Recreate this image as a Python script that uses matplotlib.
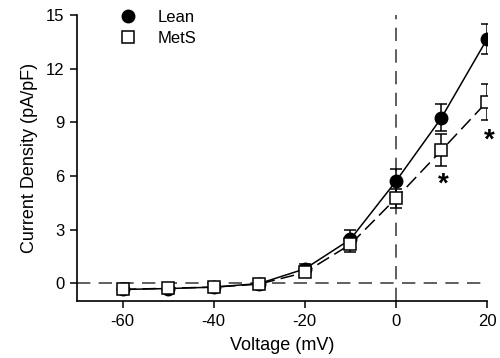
import numpy as np
import matplotlib
matplotlib.use('Agg')
import matplotlib.pyplot as plt
from matplotlib.lines import Line2D

plt.rcParams['font.family'] = ['Liberation Sans', 'DejaVu Sans']
plt.rcParams['axes.unicode_minus'] = False

# voltage steps (mV)
voltage = [-60, -50, -40, -30, -20, -10, 0, 10, 20]

# current density (pA/pF), mean and SEM
lean = [-0.35, -0.3, -0.22, -0.02, 0.8, 2.45, 5.7, 9.25, 13.65]
lean_err = [0.1, 0.1, 0.1, 0.15, 0.3, 0.5, 0.7, 0.75, 0.85]
mets = [-0.35, -0.28, -0.22, -0.05, 0.6, 2.17, 4.74, 7.43, 10.15]
mets_err = [0.1, 0.1, 0.1, 0.15, 0.25, 0.4, 0.55, 0.9, 1.0]

# significance markers
star_x = [10, 20]
star_y = [5.5, 8.0]

fig = plt.figure(figsize=(5, 3.58), dpi=100)
ax = fig.add_axes([0.154, 0.159, 0.82, 0.799])

ax.axhline(0, color='#444444', lw=1.2, ls=(0, (8, 5)), zorder=1)
ax.axvline(0, color='#444444', lw=1.2, ls=(0, (8, 5)), zorder=1)

ax.errorbar(voltage, lean, yerr=lean_err, color='black', lw=1.1,
            marker='o', ms=9, mfc='black', mec='black',
            capsize=4.5, capthick=1.1, elinewidth=1.1, zorder=3)
ax.errorbar(voltage, mets, yerr=mets_err, color='black', lw=1.1,
            ls=(0, (9, 4)), marker='s', ms=8.5, mfc='white', mec='black',
            mew=1.1, capsize=4.5, capthick=1.1, elinewidth=1.1, zorder=4)

for sx, sy in zip(star_x, star_y):
    ax.text(sx + 0.4, sy, '*', ha='center', va='center', fontsize=20,
            fontweight='bold')

ax.set_xlim(-70, 20)
ax.set_ylim(-1, 15)
ax.set_xticks([-60, -40, -20, 0, 20])
ax.set_yticks([0, 3, 6, 9, 12, 15])
ax.tick_params(direction='out', length=5, width=1.1, labelsize=12, pad=4)
for s in ['top', 'right']:
    ax.spines[s].set_visible(False)
for s in ['left', 'bottom']:
    ax.spines[s].set_linewidth(1.2)

ax.set_xlabel('Voltage (mV)', fontsize=13, labelpad=6)
ax.set_ylabel('Current Density (pA/pF)', fontsize=13, labelpad=6)

handles = [Line2D([], [], ls='none', marker='o', ms=9, mfc='black', mec='black'),
           Line2D([], [], ls='none', marker='s', ms=8.5, mfc='white', mec='black', mew=1.1)]
ax.legend(handles, ['Lean', 'MetS'], loc='upper left', bbox_to_anchor=(0.063, 1.07),
          frameon=False, fontsize=12, handlelength=1.2, handletextpad=1.2,
          labelspacing=0.35)

fig.savefig('out.png', dpi=100)
